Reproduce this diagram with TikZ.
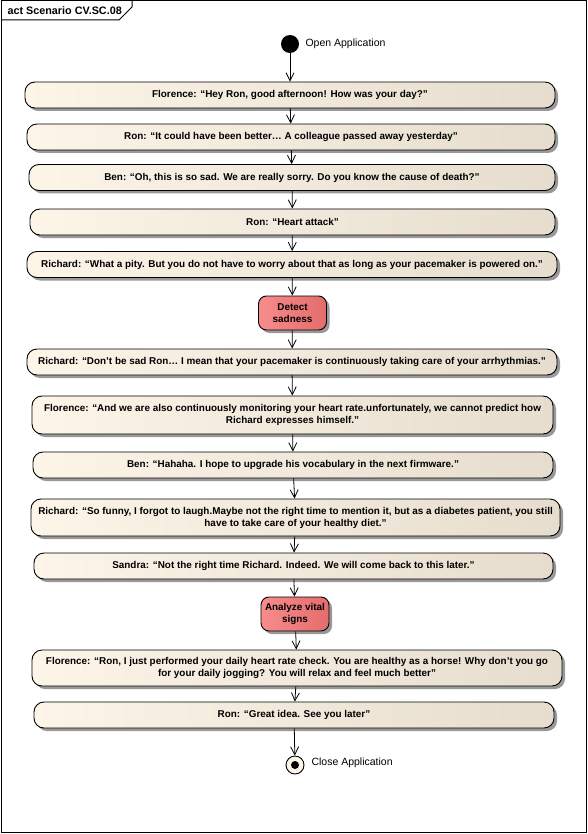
\documentclass[tikz,border=0pt]{standalone}
\usepackage{fontspec}
\setmainfont{Liberation Sans}
\usetikzlibrary{arrows.meta,shadows}
\usetikzlibrary{positioning}
\definecolor{actleft}{RGB}{252,245,232}
\definecolor{actright}{RGB}{230,221,206}
\definecolor{hotleft}{RGB}{248,140,140}
\definecolor{hotright}{RGB}{228,108,108}
\tikzset{
    action/.style={
           rectangle,
           rounded corners=10pt,
           draw=black, line width=0.9pt,
           left color=actleft, right color=actright,
           drop shadow={shadow xshift=3pt, shadow yshift=-3pt, fill=black!40, opacity=1},
           minimum height=26pt,
           inner sep=1pt,
           align=center,
           font=\fontsize{9.9}{12}\selectfont\bfseries,
           },
    hot/.style={
           action,
           rounded corners=8pt,
           left color=hotleft, right color=hotright,
           minimum width=68pt, minimum height=34pt,
           },
    flow/.style={-{Straight Barb[length=8pt,width=8pt]}, line width=0.8pt},
}

\begin{document}
\begin{tikzpicture}[x=1pt,y=-1pt]

 % page and frame
 \useasboundingbox (0,0) rectangle (588,834);
 \draw[line width=1pt] (1,1) rectangle (586,832);
 \draw[line width=1pt] (1,20) -- (119,20) -- (132,7) -- (132,1);
 \node[anchor=west,font=\fontsize{10.8}{12}\selectfont\bfseries] (frame title) at (4,11) {act Scenario CV.SC.08};

 % start
 \node[circle,fill=black,minimum size=18pt,inner sep=0] (start) at (290,44) {};
 \node[anchor=west,font=\fontsize{10.5}{12}\selectfont] (start label) at (302,44) {Open Application};

 % the conversation
 \node[action,minimum width=530pt] (florenceHey) at (290,95)
  {Florence: “Hey Ron, good afternoon! How was your day?”};
 \node[action,minimum width=528pt] (ronBetter) at (291,137)
  {Ron: “It could have been better… A colleague passed away yesterday”};
 \node[action,minimum width=526pt] (benSad) at (292,177.5)
  {Ben: “Oh, this is so sad. We are really sorry. Do you know the cause of death?”};
 \node[action,minimum width=525pt] (ronHeart) at (292.5,222)
  {Ron: “Heart attack”};
 \node[action,minimum width=530pt] (richardPity) at (292,264.5)
  {Richard: “What a pity. But you do not have to worry about that as long as your pacemaker is powered on.”};

 \node[hot] (detectSad) at (292.5,313) {Detect\\sadness};

 \node[action,minimum width=530pt] (richardDont) at (292,362)
  {Richard: “Don't be sad Ron… I mean that your pacemaker is continuously taking care of your arrhythmias.”};
 \node[action,minimum width=521pt,minimum height=38pt] (florenceMonitor) at (292.5,415)
  {Florence: “And we are also continuously monitoring your heart rate.unfortunately, we cannot predict how\\Richard expresses himself.”};
 \node[action,minimum width=520pt] (benHahaha) at (293,465)
  {Ben: “Hahaha. I hope to upgrade his vocabulary in the next firmware.”};
 \node[action,minimum width=529pt,minimum height=37pt] (richardFunny) at (295.5,517.5)
  {Richard: “So funny, I forgot to laugh.Maybe not the right time to mention it, but as a diabetes patient, you still\\have to take care of your healthy diet.”};
 \node[action,minimum width=519pt] (sandraLater) at (293.5,566)
  {Sandra: “Not the right time Richard. Indeed. We will come back to this later.”};

 \node[hot] (analyzeVital) at (295,614) {Analyze vital\\signs};

 \node[action,minimum width=530pt,minimum height=36pt] (florenceCheck) at (297,668)
  {Florence: “Ron, I just performed your daily heart rate check. You are healthy as a horse! Why don't you go\\for your daily jogging? You will relax and feel much better”};
 \node[action,minimum width=520pt] (ronIdea) at (294,715)
  {Ron: “Great idea.  See you later”};

 % end
 \node[circle,draw=black,line width=0.9pt,fill=actleft,minimum size=18pt,inner sep=0] (finish) at (295,765) {};
 \fill (finish.center) circle (4pt);
 \node[anchor=west,font=\fontsize{10.5}{12}\selectfont] (finish label) at (308,763) {Close Application};

 % control flow
 \draw[flow] (start) -- (florenceHey);
 \draw[flow] (florenceHey) -- (ronBetter);
 \draw[flow] (ronBetter) -- (benSad);
 \draw[flow] (benSad) -- (ronHeart);
 \draw[flow] (ronHeart) -- (richardPity);
 \draw[flow] (richardPity) -- (detectSad);
 \draw[flow] (detectSad) -- (richardDont);
 \draw[flow] (richardDont) -- (florenceMonitor);
 \draw[flow] (florenceMonitor) -- (benHahaha);
 \draw[flow] (benHahaha) -- (richardFunny);
 \draw[flow] (richardFunny) -- (sandraLater);
 \draw[flow] (sandraLater) -- (analyzeVital);
 \draw[flow] (analyzeVital) -- (florenceCheck);
 \draw[flow] (florenceCheck) -- (ronIdea);
 \draw[flow] (ronIdea) -- (finish);

\end{tikzpicture}
\end{document}
